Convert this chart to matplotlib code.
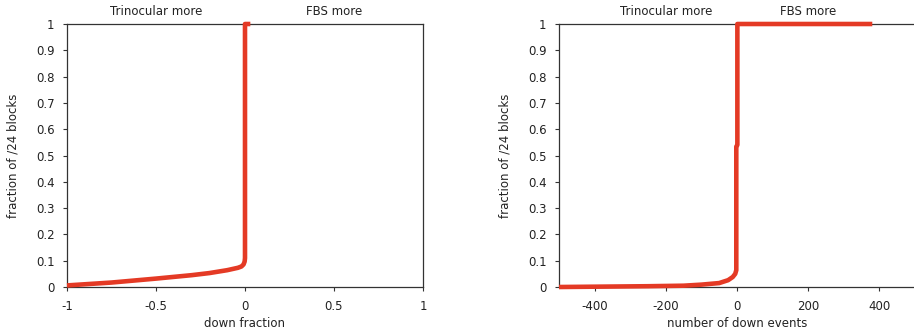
#!/usr/bin/env python3
"""CDFs of per-/24-block differences in down events between Trinocular and FBS."""

import matplotlib

matplotlib.use("Agg")
import matplotlib.pyplot as plt

# left panel: down fraction difference (CDF)
frac_x = [-1.0, -0.75, -0.5, -0.3, -0.2, -0.1, -0.04, -0.02, -0.008, -0.002, 0.0, 0.0, 0.03]
frac_y = [0.006, 0.017, 0.032, 0.045, 0.053, 0.064, 0.073, 0.078, 0.086, 0.097, 0.11, 1.0, 1.0]

# right panel: difference in number of down events (CDF)
count_x = [-500, -250, -150, -100, -50, -25, -12, -5, -2, -2, 1, 1, 380]
count_y = [0.0, 0.003, 0.005, 0.009, 0.015, 0.026, 0.038, 0.05, 0.064, 0.534, 0.54, 1.0, 1.0]

y_ticks = [0, 0.1, 0.2, 0.3, 0.4, 0.5, 0.6, 0.7, 0.8, 0.9, 1]
y_ticklabels = ["0", "0.1", "0.2", "0.3", "0.4", "0.5", "0.6", "0.7", "0.8", "0.9", "1"]
frac_ticks = [-1, -0.5, 0, 0.5, 1]
frac_ticklabels = ["-1", "-0.5", "0", "0.5", "1"]
count_ticks = [-400, -200, 0, 200, 400]
count_ticklabels = ["-400", "-200", "0", "200", "400"]

LINE_COLOR = "#e43a25"
SPINE_COLOR = "#333333"
TEXT_COLOR = "#222222"

plt.rcParams["font.family"] = "DejaVu Sans"
plt.rcParams["font.size"] = 8.5

fig = plt.figure(figsize=(9.14, 3.31), dpi=100)
ax1 = fig.add_axes([0.0733, 0.1329, 0.3895, 0.7946])
ax2 = fig.add_axes([0.6116, 0.1329, 0.3895, 0.7946])


def style_axes(ax, xlim, xticks, xticklabels, xlabel, side_pos):
    ax.set_xlim(*xlim)
    ax.set_ylim(0, 1)
    ax.set_xticks(xticks)
    ax.set_xticklabels(xticklabels)
    ax.set_yticks(y_ticks)
    ax.set_yticklabels(y_ticklabels)
    ax.tick_params(direction="out", length=3, width=0.8, color=SPINE_COLOR,
                   labelcolor=TEXT_COLOR, pad=6, labelsize=8.5)
    for s in ax.spines.values():
        s.set_color(SPINE_COLOR)
        s.set_linewidth(0.9)
    ax.set_xlabel(xlabel, color=TEXT_COLOR, fontsize=8.5, labelpad=3)
    ax.set_ylabel("fraction of /24 blocks", color=TEXT_COLOR, fontsize=8.5, labelpad=12)
    for xpos, txt in zip(side_pos, ["Trinocular more", "FBS more"]):
        ax.annotate(txt, xy=(xpos, 1.0), xycoords=("data", "axes fraction"),
                    xytext=(0, 9), textcoords="offset points",
                    ha="center", va="center", color=TEXT_COLOR, fontsize=8.5)


ax1.plot(frac_x, frac_y, color=LINE_COLOR, linewidth=3.3, solid_capstyle="butt",
         clip_on=False, zorder=3)
style_axes(ax1, (-1, 1), frac_ticks, frac_ticklabels, "down fraction", (-0.5, 0.5))

ax2.plot(count_x, count_y, color=LINE_COLOR, linewidth=3.3, solid_capstyle="butt",
         clip_on=False, zorder=3)
style_axes(ax2, (-500, 500), count_ticks, count_ticklabels, "number of down events",
           (-200, 200))
# the right panel's frame ends at the figure edge
ax2.spines["right"].set_visible(False)

fig.savefig("out.png", dpi=100)
plt.close(fig)
